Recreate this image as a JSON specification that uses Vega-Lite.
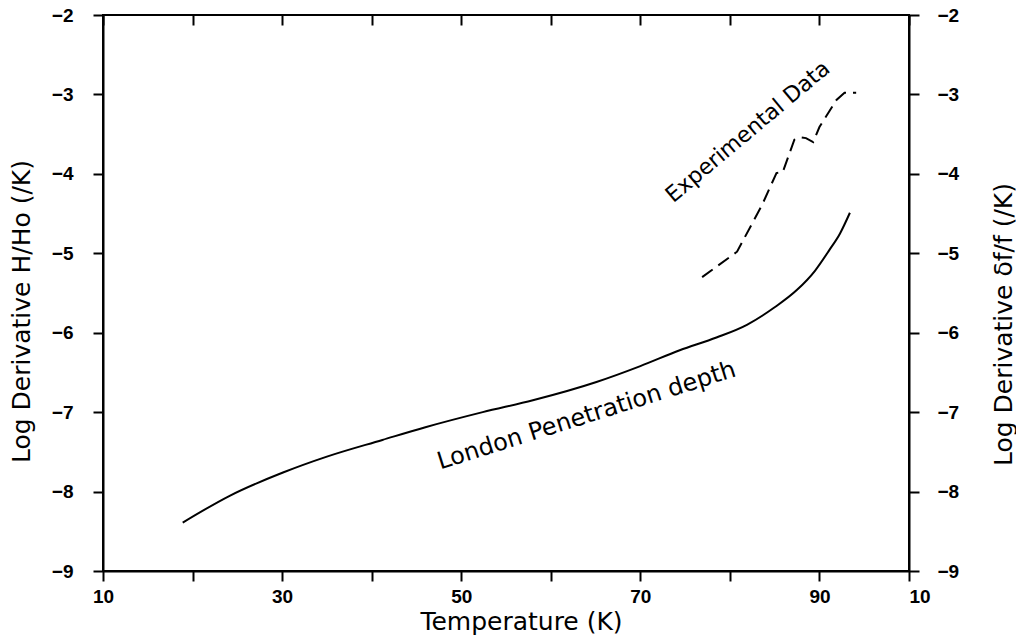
{
  "$schema": "https://vega.github.io/schema/vega-lite/v6.json",
  "width": 806,
  "height": 556,
  "autosize": {"type": "none"},
  "padding": {"left": 103, "top": 15, "right": 107, "bottom": 71},
  "background": "white",
  "config": {
    "view": {"stroke": "black", "strokeWidth": 2},
    "axis": {
      "grid": false,
      "domainColor": "black",
      "domainWidth": 2,
      "tickColor": "black",
      "tickWidth": 2,
      "labelFont": "Liberation Sans",
      "labelFontWeight": "bold",
      "labelFontSize": 19,
      "labelColor": "black",
      "titleFont": "DejaVu Sans",
      "titleFontSize": 25,
      "titleFontWeight": "normal",
      "titleColor": "black"
    }
  },
  "datasets": {
    "london": [
      {"T": 18.9, "v": -8.39},
      {"T": 24.2, "v": -8.05},
      {"T": 30.1, "v": -7.76},
      {"T": 35.0, "v": -7.56},
      {"T": 41.2, "v": -7.35},
      {"T": 46.0, "v": -7.19},
      {"T": 52.4, "v": -7.0},
      {"T": 58.0, "v": -6.85},
      {"T": 65.1, "v": -6.62},
      {"T": 70.0, "v": -6.42},
      {"T": 74.4, "v": -6.22},
      {"T": 78.5, "v": -6.06},
      {"T": 81.9, "v": -5.9},
      {"T": 85.0, "v": -5.68},
      {"T": 87.5, "v": -5.46},
      {"T": 89.5, "v": -5.22},
      {"T": 91.1, "v": -4.96},
      {"T": 92.3, "v": -4.75},
      {"T": 93.4, "v": -4.49}
    ],
    "exp": [
      {"T": 76.9, "v": -5.30},
      {"T": 80.8, "v": -4.98},
      {"T": 83.6, "v": -4.39},
      {"T": 85.2, "v": -3.99},
      {"T": 85.9, "v": -3.98},
      {"T": 87.2, "v": -3.57},
      {"T": 87.8, "v": -3.54},
      {"T": 88.5, "v": -3.55},
      {"T": 89.3, "v": -3.60},
      {"T": 90.0, "v": -3.41},
      {"T": 91.9, "v": -3.07},
      {"T": 92.8, "v": -2.98},
      {"T": 94.1, "v": -2.98}
    ],
    "lab1": [{"T": 82.0, "v": -3.47, "text": "Experimental Data"}],
    "lab2": [{"T": 64.0, "v": -7.05, "text": "London Penetration depth"}]
  },
  "layer": [
    {
      "data": {"name": "london"},
      "mark": {"type": "line", "color": "black", "strokeWidth": 2, "interpolate": "monotone"},
      "encoding": {
        "x": {
          "field": "T", "type": "quantitative",
          "scale": {"domain": [10, 100], "nice": false, "zero": false},
          "axis": {
            "orient": "bottom",
            "values": [10, 20, 30, 40, 50, 60, 70, 80, 90, 100],
            "labelExpr": "datum.value == 100 ? '10' : (datum.value % 20 == 10 ? datum.label : '')",
            "labelAlign": {"condition": {"test": "datum.value == 100", "value": "left"}, "value": "center"},
            "labelFlush": false,
            "tickSize": 10,
            "labelPadding": 6,
            "title": "Temperature (K)",
            "titleX": 418,
            "titleY": 50,
            "titleBaseline": "middle",
            "titleAlign": "center"
          }
        },
        "y": {
          "field": "v", "type": "quantitative",
          "scale": {"domain": [-9, -2], "nice": false, "zero": false},
          "axis": {
            "orient": "left",
            "values": [-9, -8, -7, -6, -5, -4, -3, -2],
            "tickSize": 10,
            "labelPadding": 20,
            "labelFlush": false,
            "title": "Log Derivative H/Ho (/K)",
            "titleX": -82,
            "titleY": 296,
            "titleAngle": -90,
            "titleBaseline": "middle",
            "titleAlign": "center"
          }
        }
      }
    },
    {
      "data": {"name": "exp"},
      "mark": {"type": "line", "color": "black", "strokeWidth": 2, "strokeDash": [13, 7]},
      "encoding": {
        "x": {
          "field": "T", "type": "quantitative",
          "scale": {"domain": [10, 100], "nice": false, "zero": false},
          "axis": {
            "orient": "top",
            "values": [10, 20, 30, 40, 50, 60, 70, 80, 90, 100],
            "labels": false,
            "domain": false,
            "offset": -10,
            "tickSize": 10,
            "title": null
          }
        },
        "y": {
          "field": "v", "type": "quantitative",
          "scale": {"domain": [-9, -2], "nice": false, "zero": false},
          "axis": {
            "orient": "right",
            "values": [-9, -8, -7, -6, -5, -4, -3, -2],
            "tickSize": 10,
            "labelPadding": 18,
            "labelFlush": false,
            "title": "Log Derivative δf/f (/K)",
            "titleX": 94,
            "titleY": 309,
            "titleAngle": -90,
            "titleBaseline": "middle",
            "titleAlign": "center"
          }
        }
      }
    },
    {
      "data": {"name": "lab1"},
      "mark": {"type": "text", "font": "DejaVu Sans", "fontSize": 22, "angle": -40, "align": "center", "baseline": "middle", "color": "black"},
      "encoding": {
        "x": {"field": "T", "type": "quantitative", "scale": {"domain": [10, 100], "nice": false, "zero": false}, "axis": null},
        "y": {"field": "v", "type": "quantitative", "scale": {"domain": [-9, -2], "nice": false, "zero": false}, "axis": null},
        "text": {"field": "text"}
      }
    },
    {
      "data": {"name": "lab2"},
      "mark": {"type": "text", "font": "DejaVu Sans", "fontSize": 24, "angle": -17.5, "align": "center", "baseline": "middle", "color": "black"},
      "encoding": {
        "x": {"field": "T", "type": "quantitative", "scale": {"domain": [10, 100], "nice": false, "zero": false}, "axis": null},
        "y": {"field": "v", "type": "quantitative", "scale": {"domain": [-9, -2], "nice": false, "zero": false}, "axis": null},
        "text": {"field": "text"}
      }
    }
  ],
  "resolve": {"scale": {"x": "independent", "y": "independent"}}
}
